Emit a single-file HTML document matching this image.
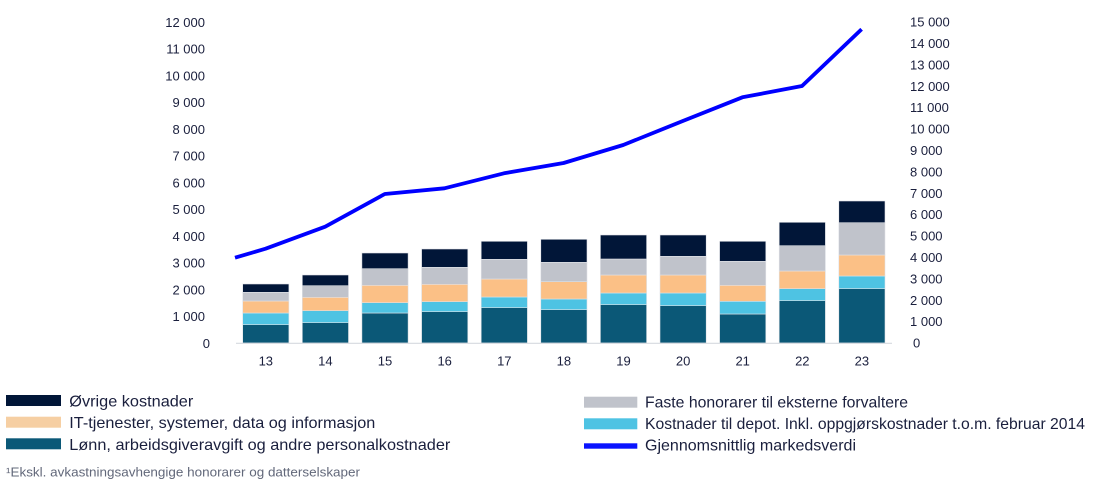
<!DOCTYPE html>
<html>
<head>
<meta charset="utf-8">
<style>
html,body{margin:0;padding:0;background:#fff;}
svg{display:block;}
text{font-family:"Liberation Sans",Arial,sans-serif;fill:#1a1f3d;}
.t{font-size:13px;}
.lg{font-size:16px;}
.fn{font-size:12.5px;fill:#62687a;}
</style>
</head>
<body>
<svg width="1104" height="486" viewBox="0 0 1104 486" xmlns="http://www.w3.org/2000/svg">
<rect width="1104" height="486" fill="#fff"/>

<!-- left axis labels -->
<g class="t" text-anchor="end">
<text x="205" y="26.8">12 000</text>
<text x="205" y="53.5">11 000</text>
<text x="205" y="80.3">10 000</text>
<text x="205" y="107.1">9 000</text>
<text x="205" y="133.8">8 000</text>
<text x="205" y="160.6">7 000</text>
<text x="205" y="187.4">6 000</text>
<text x="205" y="214.1">5 000</text>
<text x="205" y="240.9">4 000</text>
<text x="205" y="267.7">3 000</text>
<text x="205" y="294.4">2 000</text>
<text x="205" y="321.2">1 000</text>
<text x="210" y="348">0</text>
</g>

<!-- right axis labels -->
<g class="t" text-anchor="start">
<text x="910" y="26.6">15 000</text>
<text x="910" y="48">14 000</text>
<text x="910" y="69.4">13 000</text>
<text x="910" y="90.8">12 000</text>
<text x="910" y="112.2">11 000</text>
<text x="910" y="133.6">10 000</text>
<text x="910" y="155">9 000</text>
<text x="910" y="176.4">8 000</text>
<text x="910" y="197.8">7 000</text>
<text x="910" y="219.2">6 000</text>
<text x="910" y="240.6">5 000</text>
<text x="910" y="262">4 000</text>
<text x="910" y="283.4">3 000</text>
<text x="910" y="304.8">2 000</text>
<text x="910" y="326.2">1 000</text>
<text x="913" y="347.6">0</text>
</g>

<!-- bars -->
<g stroke="#dfe2e7" stroke-width="0.6">
<!-- 13 -->
<rect x="242.7" y="324.7" width="46.2" height="18.3" fill="#0b5877"/>
<rect x="242.7" y="313" width="46.2" height="11.7" fill="#4ec3e3"/>
<rect x="242.7" y="301" width="46.2" height="12" fill="#fbc086"/>
<rect x="242.7" y="292.3" width="46.2" height="8.7" fill="#c0c3cb"/>
<rect x="242.7" y="284" width="46.2" height="8.3" fill="#011638"/>
<!-- 14 -->
<rect x="302.3" y="322.7" width="46.2" height="20.3" fill="#0b5877"/>
<rect x="302.3" y="310.7" width="46.2" height="12" fill="#4ec3e3"/>
<rect x="302.3" y="297.3" width="46.2" height="13.4" fill="#fbc086"/>
<rect x="302.3" y="285.7" width="46.2" height="11.6" fill="#c0c3cb"/>
<rect x="302.3" y="275" width="46.2" height="10.7" fill="#011638"/>
<!-- 15 -->
<rect x="361.9" y="313" width="46.2" height="30" fill="#0b5877"/>
<rect x="361.9" y="302.7" width="46.2" height="10.3" fill="#4ec3e3"/>
<rect x="361.9" y="285.3" width="46.2" height="17.4" fill="#fbc086"/>
<rect x="361.9" y="268.7" width="46.2" height="16.6" fill="#c0c3cb"/>
<rect x="361.9" y="253" width="46.2" height="15.7" fill="#011638"/>
<!-- 16 -->
<rect x="421.6" y="311.7" width="46.2" height="31.3" fill="#0b5877"/>
<rect x="421.6" y="301.7" width="46.2" height="10" fill="#4ec3e3"/>
<rect x="421.6" y="284.3" width="46.2" height="17.4" fill="#fbc086"/>
<rect x="421.6" y="267.3" width="46.2" height="17" fill="#c0c3cb"/>
<rect x="421.6" y="249" width="46.2" height="18.3" fill="#011638"/>
<!-- 17 -->
<rect x="481.2" y="307.7" width="46.2" height="35.3" fill="#0b5877"/>
<rect x="481.2" y="297" width="46.2" height="10.7" fill="#4ec3e3"/>
<rect x="481.2" y="279" width="46.2" height="18" fill="#fbc086"/>
<rect x="481.2" y="259.3" width="46.2" height="19.7" fill="#c0c3cb"/>
<rect x="481.2" y="241.3" width="46.2" height="18" fill="#011638"/>
<!-- 18 -->
<rect x="540.8" y="309.7" width="46.2" height="33.3" fill="#0b5877"/>
<rect x="540.8" y="299" width="46.2" height="10.7" fill="#4ec3e3"/>
<rect x="540.8" y="281.7" width="46.2" height="17.3" fill="#fbc086"/>
<rect x="540.8" y="262.3" width="46.2" height="19.4" fill="#c0c3cb"/>
<rect x="540.8" y="239.3" width="46.2" height="23" fill="#011638"/>
<!-- 19 -->
<rect x="600.4" y="304.7" width="46.2" height="38.3" fill="#0b5877"/>
<rect x="600.4" y="293" width="46.2" height="11.7" fill="#4ec3e3"/>
<rect x="600.4" y="275" width="46.2" height="18" fill="#fbc086"/>
<rect x="600.4" y="259" width="46.2" height="16" fill="#c0c3cb"/>
<rect x="600.4" y="235" width="46.2" height="24" fill="#011638"/>
<!-- 20 -->
<rect x="660" y="305.7" width="46.2" height="37.3" fill="#0b5877"/>
<rect x="660" y="293" width="46.2" height="12.7" fill="#4ec3e3"/>
<rect x="660" y="275" width="46.2" height="18" fill="#fbc086"/>
<rect x="660" y="256.3" width="46.2" height="18.7" fill="#c0c3cb"/>
<rect x="660" y="235" width="46.2" height="21.3" fill="#011638"/>
<!-- 21 -->
<rect x="719.6" y="314" width="46.2" height="29" fill="#0b5877"/>
<rect x="719.6" y="301.3" width="46.2" height="12.7" fill="#4ec3e3"/>
<rect x="719.6" y="285.3" width="46.2" height="16" fill="#fbc086"/>
<rect x="719.6" y="261.3" width="46.2" height="24" fill="#c0c3cb"/>
<rect x="719.6" y="241.3" width="46.2" height="20" fill="#011638"/>
<!-- 22 -->
<rect x="779.2" y="300.7" width="46.2" height="42.3" fill="#0b5877"/>
<rect x="779.2" y="288.7" width="46.2" height="12" fill="#4ec3e3"/>
<rect x="779.2" y="271" width="46.2" height="17.7" fill="#fbc086"/>
<rect x="779.2" y="245.7" width="46.2" height="25.3" fill="#c0c3cb"/>
<rect x="779.2" y="222.3" width="46.2" height="23.4" fill="#011638"/>
<!-- 23 -->
<rect x="838.8" y="288.7" width="46.2" height="54.3" fill="#0b5877"/>
<rect x="838.8" y="276" width="46.2" height="12.7" fill="#4ec3e3"/>
<rect x="838.8" y="255" width="46.2" height="21" fill="#fbc086"/>
<rect x="838.8" y="222.7" width="46.2" height="32.3" fill="#c0c3cb"/>
<rect x="838.8" y="201" width="46.2" height="21.7" fill="#011638"/>
</g>

<!-- baseline -->
<line x1="236" y1="343.3" x2="892" y2="343.3" stroke="#d6d9df" stroke-width="1.2"/>

<!-- x labels -->
<g class="t" text-anchor="middle">
<text x="265.8" y="365.3">13</text>
<text x="325.4" y="365.3">14</text>
<text x="385" y="365.3">15</text>
<text x="444.7" y="365.3">16</text>
<text x="504.3" y="365.3">17</text>
<text x="563.9" y="365.3">18</text>
<text x="623.5" y="365.3">19</text>
<text x="683.1" y="365.3">20</text>
<text x="742.7" y="365.3">21</text>
<text x="802.3" y="365.3">22</text>
<text x="861.9" y="365.3">23</text>
</g>

<!-- line -->
<polyline fill="none" stroke="#0000ff" stroke-width="3.8" stroke-linejoin="round"
 points="235,257.7 265.6,248.7 325.2,226.7 384.8,194 444.4,188.3 504,173.3 563.6,163 623.2,145 682.8,121 742.4,97.3 802,86 861.6,29.3"/>

<!-- legend left -->
<rect x="6" y="395" width="55" height="11" fill="#011638"/>
<text class="lg" x="69.3" y="406.5" textLength="124" lengthAdjust="spacingAndGlyphs">Øvrige kostnader</text>
<rect x="6" y="416.7" width="55" height="11" fill="#f6cfa3"/>
<text class="lg" x="69.3" y="428.2" textLength="306" lengthAdjust="spacingAndGlyphs">IT-tjenester, systemer, data og informasjon</text>
<rect x="6" y="438.3" width="55" height="11" fill="#0b5877"/>
<text class="lg" x="69.3" y="449.9" textLength="381" lengthAdjust="spacingAndGlyphs">Lønn, arbeidsgiveravgift og andre personalkostnader</text>

<!-- legend right -->
<rect x="584" y="396.7" width="53.3" height="11" fill="#c0c3cb"/>
<text class="lg" x="645" y="407.6" textLength="263" lengthAdjust="spacingAndGlyphs">Faste honorarer til eksterne forvaltere</text>
<rect x="584" y="418.3" width="53.3" height="11" fill="#4ec3e3"/>
<text class="lg" x="645" y="429.2" textLength="440" lengthAdjust="spacingAndGlyphs">Kostnader til depot. Inkl. oppgjørskostnader t.o.m. februar 2014</text>
<rect x="584" y="443.3" width="53.3" height="5.4" fill="#0a14ff"/>
<text class="lg" x="645" y="450.6" textLength="211" lengthAdjust="spacingAndGlyphs">Gjennomsnittlig markedsverdi</text>

<!-- footnote -->
<text class="fn" x="6" y="476.3" textLength="354" lengthAdjust="spacingAndGlyphs">¹Ekskl. avkastningsavhengige honorarer og datterselskaper</text>
</svg>
</body>
</html>
